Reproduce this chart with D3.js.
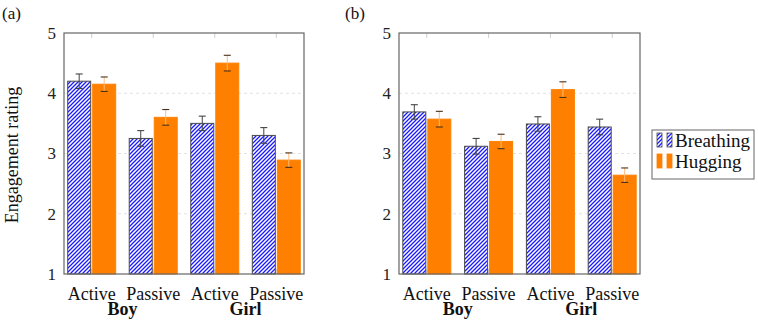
<!DOCTYPE html>
<html>
<head>
<meta charset="utf-8">
<script src="https://cdn.jsdelivr.net/npm/d3@7"></script>
<style>
  html, body { margin: 0; padding: 0; background: #fff; }
  text { font-family: "Liberation Serif", "DejaVu Serif", serif; }
</style>
</head>
<body>
<svg id="chart" width="758" height="321"></svg>
<script>
// categories along x (two conditions per child)
const conditions = ["Active", "Passive", "Active", "Passive"];
const groupLabels = ["Boy", "Girl"];
const series = ["Breathing", "Hugging"];
const yTicks = [1, 2, 3, 4, 5];

// panel (a)
const breathingA = [4.2, 3.25, 3.5, 3.3];
const breathingErrA = [0.12, 0.13, 0.12, 0.13];
const huggingA = [4.15, 3.6, 4.5, 2.89];
const huggingErrA = [0.12, 0.13, 0.13, 0.12];

// panel (b)
const breathingB = [3.69, 3.12, 3.49, 3.44];
const breathingErrB = [0.12, 0.13, 0.12, 0.13];
const huggingB = [3.57, 3.2, 4.06, 2.64];
const huggingErrB = [0.13, 0.12, 0.13, 0.12];

const svg = d3.select("#chart").attr("font-family", "Liberation Serif, serif");
const plotTop = 33, plotBottom = 274;
const serif = "Liberation Serif";

// hatch pattern for Breathing bars
const defs = svg.append("defs");
const hs = 4;
const pat = defs.append("pattern")
  .attr("id", "hatch")
  .attr("patternUnits", "userSpaceOnUse")
  .attr("width", hs).attr("height", hs);
pat.append("rect").attr("width", hs).attr("height", hs).attr("fill", "#fff");
pat.append("path")
  .attr("d", `M0,${hs} L${hs},0 M${-hs / 4},${hs / 4} L${hs / 4},${-hs / 4} M${hs * 0.75},${hs * 1.25} L${hs * 1.25},${hs * 0.75}`)
  .attr("stroke", "#1a1aff")
  .attr("stroke-width", 1.3);

const orange = "#ff8000";

function drawPanel(left, right, label, labelX, breathing, bErr, hugging, hErr) {
  const g = svg.append("g");

  const x0 = d3.scalePoint()
    .domain(d3.range(conditions.length))
    .range([left, right])
    .padding(0.45);

  const x1 = d3.scaleBand()
    .domain(series)
    .range([-24, 24])
    .paddingInner(0.08);

  const y = d3.scaleLinear().domain([1, 5]).range([plotBottom, plotTop]);

  // grid lines
  g.selectAll(".grid")
    .data(yTicks.filter((t) => t > 1 && t < 5))
    .enter()
    .append("line")
    .attr("x1", left).attr("x2", right)
    .attr("y1", (d) => y(d)).attr("y2", (d) => y(d))
    .attr("stroke", "#e2e2e2")
    .attr("stroke-dasharray", "3,3");

  // category ticks top and bottom
  d3.range(conditions.length).forEach((i) => {
    [[plotTop, plotTop + 5], [plotBottom, plotBottom - 5]].forEach(([a, b]) => {
      g.append("line")
        .attr("x1", x0(i)).attr("x2", x0(i))
        .attr("y1", a).attr("y2", b)
        .attr("stroke", "#cfcfcf");
    });
  });

  const rows = d3.range(conditions.length).flatMap((i) => [
    { i, s: "Breathing", v: breathing[i], e: bErr[i] },
    { i, s: "Hugging", v: hugging[i], e: hErr[i] },
  ]);

  // bars
  g.selectAll(".bar")
    .data(rows)
    .enter()
    .append("rect")
    .attr("x", (d) => x0(d.i) + x1(d.s))
    .attr("y", (d) => y(d.v))
    .attr("width", x1.bandwidth())
    .attr("height", (d) => y(1) - y(d.v))
    .attr("fill", (d) => (d.s === "Breathing" ? "url(#hatch)" : orange))
    .attr("stroke", (d) => (d.s === "Breathing" ? "#4a4a4a" : orange))
    .attr("stroke-width", 1);

  // error bars
  rows.forEach((d) => {
    const cx = x0(d.i) + x1(d.s) + x1.bandwidth() / 2;
    const yHi = y(d.v + d.e), yLo = y(d.v - d.e);
    g.append("line")
      .attr("x1", cx).attr("x2", cx)
      .attr("y1", yHi).attr("y2", yLo)
      .attr("stroke", d.s === "Breathing" ? "#444" : "#ffbb78")
      .attr("stroke-width", 1);
    [yHi, yLo].forEach((yy) => {
      g.append("line")
        .attr("x1", cx - 3.5).attr("x2", cx + 3.5)
        .attr("y1", yy).attr("y2", yy)
        .attr("stroke", d.s === "Breathing" ? "#444" : "#4a3018")
        .attr("stroke-width", 1.1);
    });
  });

  // y tick labels
  g.selectAll(".ytick")
    .data(yTicks)
    .enter()
    .append("text")
    .attr("x", left - 8)
    .attr("y", (d) => y(d))
    .attr("dy", "0.34em")
    .attr("text-anchor", "end")
    .attr("font-family", serif)
    .attr("font-size", 17)
    .attr("fill", "#222")
    .text((d) => d);

  // axis box
  g.append("rect")
    .attr("x", left).attr("y", plotTop)
    .attr("width", right - left).attr("height", plotBottom - plotTop)
    .attr("fill", "none")
    .attr("stroke", "#666")
    .attr("stroke-width", 1.2);

  // x labels
  g.selectAll(".xlab")
    .data(conditions)
    .enter()
    .append("text")
    .attr("x", (d, i) => x0(i))
    .attr("y", 300)
    .attr("text-anchor", "middle")
    .attr("font-family", serif)
    .attr("font-size", 18)
    .attr("fill", "#111")
    .text((d) => d);

  g.selectAll(".glab")
    .data(groupLabels)
    .enter()
    .append("text")
    .attr("x", (d, k) => (x0(2 * k) + x0(2 * k + 1)) / 2)
    .attr("y", 315)
    .attr("text-anchor", "middle")
    .attr("font-family", serif)
    .attr("font-size", 18)
    .attr("font-weight", "bold")
    .attr("fill", "#111")
    .text((d) => d);

  // panel label
  svg.append("text")
    .attr("x", labelX).attr("y", 19)
    .attr("font-family", serif)
    .attr("font-size", 17)
    .attr("fill", "#111")
    .text(label);
}

drawPanel(64, 304, "(a)", 2, breathingA, breathingErrA, huggingA, huggingErrA);
drawPanel(399, 640, "(b)", 345, breathingB, breathingErrB, huggingB, huggingErrB);

// y axis title
svg.append("text")
  .attr("transform", "translate(18, 155) rotate(-90)")
  .attr("text-anchor", "middle")
  .attr("font-family", serif)
  .attr("font-size", 18)
  .attr("fill", "#111")
  .text("Engagement rating");

// legend
const legend = svg.append("g").attr("transform", "translate(652, 130)");
legend.append("rect")
  .attr("width", 102).attr("height", 49)
  .attr("fill", "#fff")
  .attr("stroke", "#666")
  .attr("stroke-width", 1);

series.forEach((s, k) => {
  const row = legend.append("g").attr("transform", `translate(0, ${3 + k * 21})`);
  [5, 15].forEach((dx) => {
    row.append("rect")
      .attr("x", dx).attr("y", 0)
      .attr("width", 5).attr("height", 14)
      .attr("fill", s === "Breathing" ? "url(#hatch)" : orange)
      .attr("stroke", s === "Breathing" ? "#4a4a4a" : orange)
      .attr("stroke-width", 0.8);
  });
  row.append("text")
    .attr("x", 23).attr("y", 14)
    .attr("font-family", serif)
    .attr("font-size", 19)
    .attr("fill", "#111")
    .text(s);
});
</script>
</body>
</html>
